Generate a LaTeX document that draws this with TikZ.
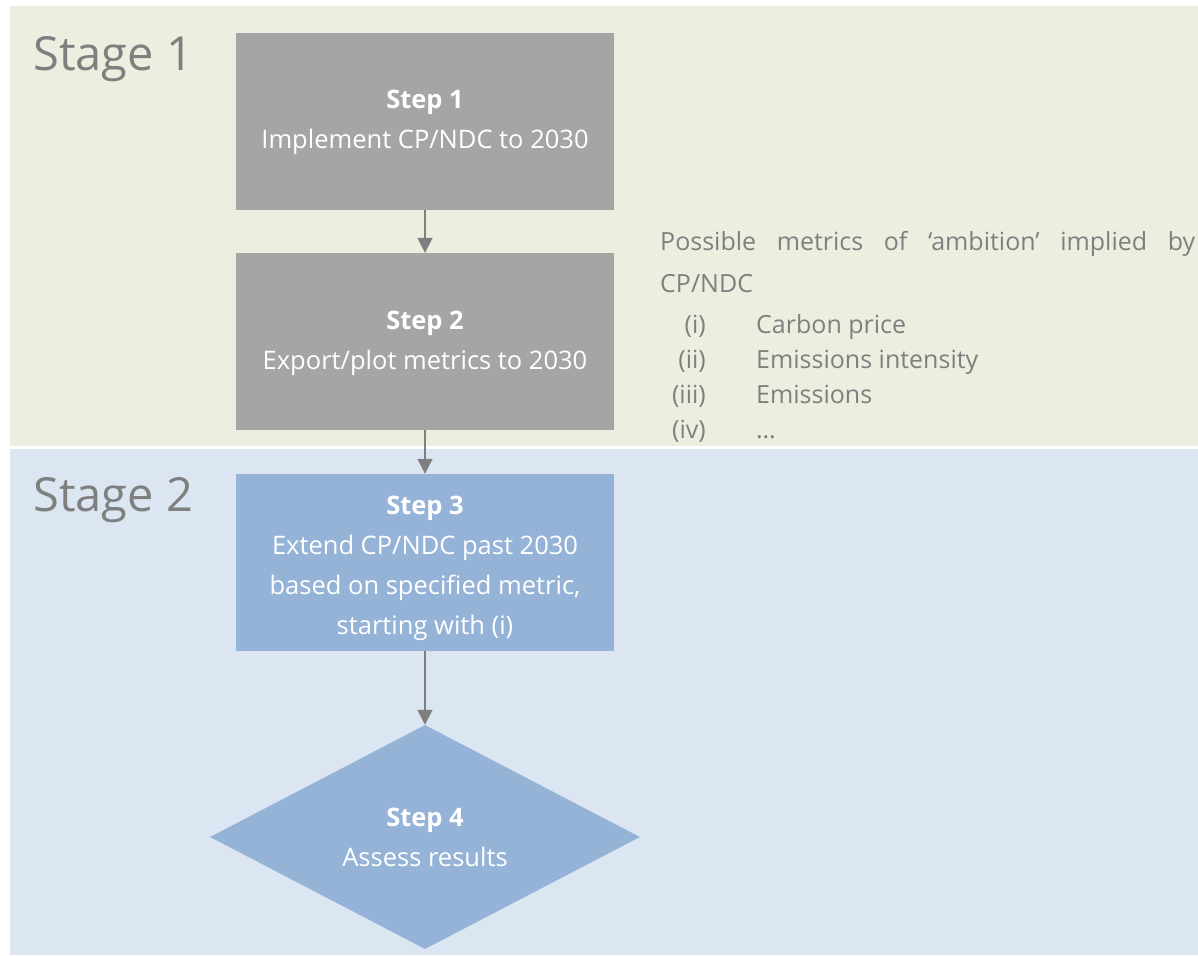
\documentclass[tikz,border=0pt]{standalone}
\usepackage{fontspec}
\setmainfont{Open Sans}
\usetikzlibrary{shapes.geometric,arrows.meta}
\definecolor{bandgreen}{HTML}{EBEFDF}
\definecolor{bandblue}{HTML}{DCE6F2}
\definecolor{boxgray}{HTML}{A5A5A5}
\definecolor{boxblue}{HTML}{95B3D7}
\definecolor{txtgray}{HTML}{7F7F7F}
\tikzset{
  stepbox/.style={rectangle, draw=none, minimum width=378pt, minimum height=177pt, inner sep=0pt},
  steptext/.style={text=white, align=center, inner sep=0pt, font=\fontsize{25.5}{40}\selectfont},
  stepdiamond/.style={diamond, fill=boxblue, draw=none, minimum width=430pt, minimum height=219pt, inner sep=0pt,
    text=white, align=center, font=\fontsize{25.5}{40}\selectfont},
  stagelabel/.style={text=txtgray, inner sep=0pt, font=\fontsize{47}{56}\selectfont},
  sidetext/.style={text=txtgray, inner sep=0pt, font=\fontsize{25}{30}\selectfont},
  flow/.style={draw=txtgray, line width=1.8pt, -{Triangle[width=15pt,length=15pt]}}
}
\begin{document}
\begin{tikzpicture}[x=1pt,y=-1pt]
\useasboundingbox (0,0) rectangle (1198,955);
\fill[white] (0,0) rectangle (1198,955);
% bands
\fill[bandgreen] (10,6) rectangle (1198,446);
\fill[bandblue] (10,449) rectangle (1198,955);
% stage labels
\node[stagelabel, anchor=base west] (st1) at (33,71) {Stage 1};
\node[stagelabel, anchor=base west] (st2) at (33,511) {Stage 2};
% steps
\node[stepbox, fill=boxgray] (s1) at (425,121.5) {};
\node[steptext] (s1t) at ([yshift=-1pt]s1.center) {\textbf{Step 1}\\Implement CP/NDC to 2030};
\node[stepbox, fill=boxgray] (s2) at (425,341.5) {};
\node[steptext] (s2t) at ([yshift=-2pt]s2.center) {\textbf{Step 2}\\Export/plot metrics to 2030};
\node[stepbox, fill=boxblue] (s3) at (425,562.5) {};
\node[steptext] (s3t) at ([yshift=-6pt]s3.center) {\textbf{Step 3}\\Extend CP/NDC past 2030\\based on specified metric,\\starting with (i)};
\node[stepdiamond] (s4) at (425,837) {\textbf{Step 4}\\Assess results};
% arrows
\draw[flow] (s1.south) -- (s2.north);
\draw[flow] (s2.south) -- (s3.north);
\draw[flow] (s3.south) -- (s4.north);
% side text
\node[sidetext, anchor=base west] (m1) at (660,250) {\makebox[535pt][s]{Possible metrics of ‘ambition’ implied by}};
\node[sidetext, anchor=base west] (m2) at (660,292) {CP/NDC};
\node[sidetext, anchor=base east] (l1) at (706,333) {(i)};
\node[sidetext, anchor=base east] (l2) at (706,368) {(ii)};
\node[sidetext, anchor=base east] (l3) at (706,403) {(iii)};
\node[sidetext, anchor=base east] (l4) at (706,438) {(iv)};
\node[sidetext, anchor=base west] (t1) at (756,333) {Carbon price};
\node[sidetext, anchor=base west] (t2) at (756,368) {Emissions intensity};
\node[sidetext, anchor=base west] (t3) at (756,403) {Emissions};
\node[sidetext, anchor=base west] (t4) at (756,438) {\ldots};
\end{tikzpicture}
\end{document}
